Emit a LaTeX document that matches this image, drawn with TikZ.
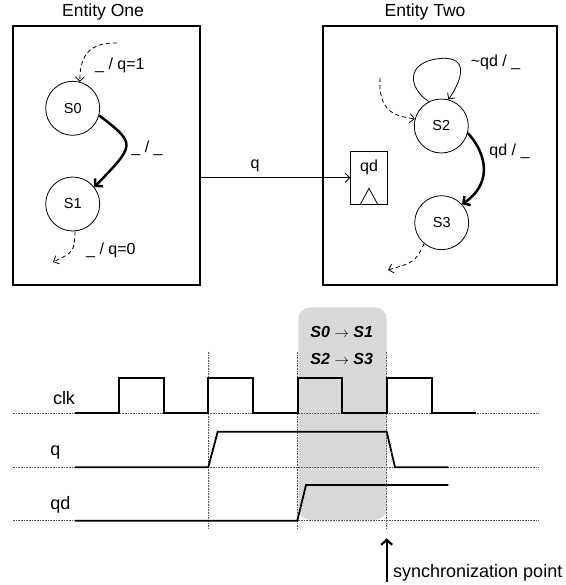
\documentclass[tikz,border=0pt]{standalone}
\usepackage{fontspec}
\setmainfont{Liberation Sans}
\usetikzlibrary{arrows.meta}
\definecolor{bandgray}{RGB}{217,217,217}
\definecolor{dotc}{RGB}{90,90,90}
\tikzset{
  ent/.style={draw, line width=2.2pt, rectangle, inner sep=0pt},
  state/.style={draw, circle, line width=0.8pt, minimum size=54pt, inner sep=0pt, font=\fontsize{14.5}{16}\selectfont},
  lbl/.style={font=\fontsize{16}{18}\selectfont, inner sep=0pt},
  title/.style={font=\fontsize{17.5}{20}\selectfont, inner sep=0pt},
  sig/.style={font=\fontsize{18}{20}\selectfont, inner sep=0pt},
  trans/.style={font=\fontsize{16}{18}\selectfont\bfseries\itshape, inner sep=0pt},
  thin arrow/.style={line width=0.8pt, -{Straight Barb[length=4.5pt,width=9pt]}},
  dash arrow/.style={thin arrow, dash pattern=on 4pt off 3pt},
  thick arrow/.style={line width=2.5pt, -{Straight Barb[length=5pt,width=11pt]}},
  wave/.style={line width=1.8pt, line join=miter},
  grid/.style={dotc, line width=0.7pt, dash pattern=on 0.8pt off 0.8pt},
}
\newcommand{\tarrow}{{\fontsize{15}{16}\selectfont$\rightarrow$}}
\begin{document}
\begin{tikzpicture}[x=1pt,y=-1pt]
\useasboundingbox (0,0) rectangle (565,585);
% entities
\node[ent, minimum width=187.3pt, minimum height=259pt] (e1) at (106.35,155.5) {};
\node[ent, minimum width=233.4pt, minimum height=259pt] (e2) at (440,155.5) {};
\node[title] (t1) at (103,12) {Entity One};
\node[title] (t2) at (425,12) {Entity Two};
% states
\node[state] (S0) at (72.7,108.3) {S0};
\node[state] (S1) at (72.7,204) {S1};
\node[state] (S2) at (441.3,126) {S2};
\node[state] (S3) at (441.7,222.7) {S3};
% register
\node[draw, line width=0.8pt, minimum width=36.6pt, minimum height=52.3pt, inner sep=0pt] (qd) at (369,177.8) {};
\node[lbl] (qdl) at (369,167) {qd};
\draw[line width=0.8pt] ([xshift=-8.7pt]qd.south) -- ([yshift=16pt]qd.south) -- ([xshift=8.7pt]qd.south);
\draw[thin arrow] (qd.west -| e1.east) -- (qd.west);
\node[lbl] (ql) at (255,166) {q};
% entity one transitions
\coordinate (i0) at (117,43);
\draw[dash arrow] (i0) .. controls (84,42) and (80,62) .. (S0.75);
\node[lbl, anchor=west] (l0) at (95,65) {\_ / q=1};
\draw[thick arrow] (S0.-15) .. controls (136,144) .. (S1.38);
\node[lbl] (l01) at (147,148) {\_ / \_};
\coordinate (o1) at (53,262);
\draw[dash arrow] (S1.-85) .. controls (74,252) .. (o1);
\node[lbl, anchor=west] (l1) at (86,250) {\_ / q=0};
% entity two transitions
\draw[thin arrow] (S2.117) .. controls (408,88) and (405,62) .. (440,58.5) .. controls (470,56) and (462,80) .. (S2.75);
\node[lbl] (l2) at (495.5,62.7) {\textasciitilde qd / \_};
\coordinate (i2) at (380,78);
\draw[dash arrow] (i2) .. controls (378,112) and (395,116) .. (S2.165);
\draw[thick arrow] (S2.-15) .. controls (482,148) and (497,180) .. (S3.42);
\node[lbl] (l23) at (509.5,151.7) {qd / \_};
\coordinate (o3) at (388,270);
\draw[dash arrow] (S3.-130) .. controls (415,262) .. (o3);
% timing diagram
\fill[bandgray, rounded corners=12pt] (298.3,307.3) rectangle (386.7,520);
\draw[grid] (12.7,413.3) -- (538.3,413.3);
\draw[grid] (12.7,467.3) -- (538.3,467.3);
\draw[grid] (12.7,520.7) -- (538.3,520.7);
\draw[grid] (208.3,351.7) -- (208.3,528.3);
\draw[grid] (297.7,351.7) -- (297.7,528.3);
\draw[grid] (386.7,351.7) -- (386.7,528.3);
\draw[wave] (75,413.3) -- (119.3,413.3) -- (119.3,378.3) -- (164,378.3) -- (164,413.3) -- (208.3,413.3) -- (208.3,378.3) -- (253.3,378.3) -- (253.3,413.3) -- (297.7,413.3) -- (297.7,378.3) -- (342.3,378.3) -- (342.3,413.3) -- (386.7,413.3) -- (386.7,378.3) -- (431.7,378.3) -- (431.7,413.3) -- (476,413.3);
\draw[wave] (75,467.3) -- (208.3,467.3) -- (217.7,431.7) -- (386.7,431.7) -- (395,467.3) -- (448.3,467.3);
\draw[wave] (75,520.7) -- (297.3,520.7) -- (306,485) -- (448.3,485);
\node[sig] (sclk) at (64,398.3) {clk};
\node[sig] (sq) at (55.3,453) {q};
\node[sig] (sqd) at (60.3,505) {qd};
\node[trans] (tr1) at (341.7,332.3) {S0 \tarrow{} S1};
\node[trans] (tr2) at (341.7,359.3) {S2 \tarrow{} S3};
% synchronization point
\coordinate (sp0) at (386.7,582);
\coordinate (sp1) at (386.7,538.3);
\draw[line width=2.2pt, -{Straight Barb[length=5pt,width=11pt]}] (sp0) -- (sp1);
\node[sig, anchor=west] (spl) at (393,573) {synchronization point};
\end{tikzpicture}
\end{document}
